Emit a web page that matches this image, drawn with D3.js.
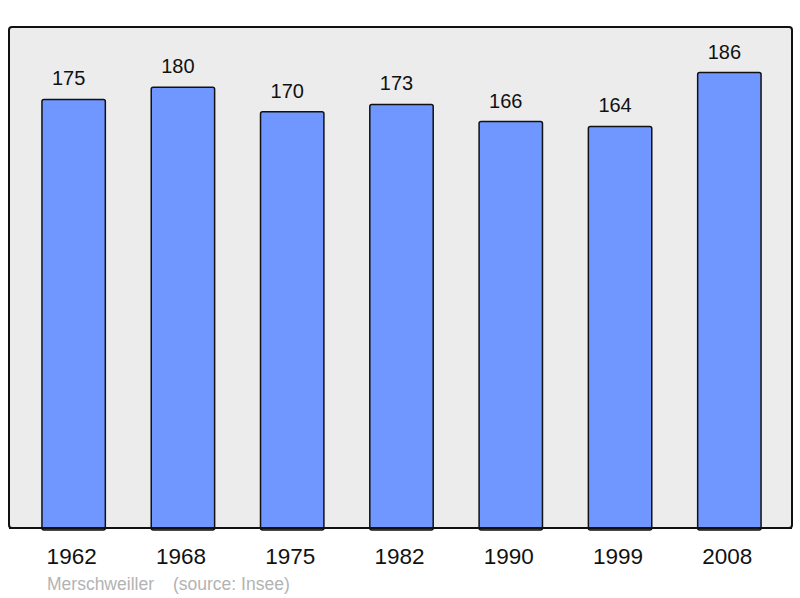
<!DOCTYPE html>
<html lang="fr">
<head>
<meta charset="utf-8">
<title>Merschweiller population</title>
<script src="https://cdn.jsdelivr.net/npm/d3@7"></script>
<style>
  body { margin: 0; background: #fff; }
  svg text { font-family: "Liberation Sans", Arial, sans-serif; }
</style>
</head>
<body>
<script>
// data
var years = ["1962", "1968", "1975", "1982", "1990", "1999", "2008"];
var population = [175, 180, 170, 173, 166, 164, 186];
var townName = "Merschweiller";
var sourceText = "(source: Insee)";

var w = 800, h = 598;
var frame = {left: 9, top: 27, right: 792, bottom: 528};

var svg = d3.select("body").append("svg")
    .attr("width", w)
    .attr("height", h);

// background frame
svg.append("rect")
    .attr("x", frame.left)
    .attr("y", frame.top)
    .attr("width", frame.right - frame.left)
    .attr("height", frame.bottom - frame.top)
    .attr("rx", 3)
    .attr("fill", "#ececec")
    .attr("stroke", "#111")
    .attr("stroke-width", 2);

var xScale = d3.scaleBand()
    .domain(years)
    .range([19, 784])
    .paddingInner(0.42)
    .paddingOuter(0.21);

var yScale = d3.scaleLinear()
    .domain([0, d3.max(population) * 1.1])
    .range([frame.bottom, frame.top]);

var rows = years.map(function(y, i) { return {year: y, value: population[i]}; });

svg.selectAll("rect.bar")
    .data(rows)
    .enter()
    .append("rect")
    .attr("class", "bar")
    .attr("x", d => xScale(d.year))
    .attr("y", d => yScale(d.value))
    .attr("width", xScale.bandwidth())
    .attr("height", d => frame.bottom - yScale(d.value) + 2)
    .attr("rx", 2)
    .attr("fill", "#7097ff")
    .attr("stroke", "#111")
    .attr("stroke-width", 1.5);

// redraw bottom line over the bars
svg.append("line")
    .attr("x1", frame.left)
    .attr("x2", frame.right)
    .attr("y1", frame.bottom)
    .attr("y2", frame.bottom)
    .attr("stroke", "#111")
    .attr("stroke-width", 2);

// value labels (sit a bit left of bar centre in the original)
svg.selectAll("text.val")
    .data(rows)
    .enter()
    .append("text")
    .attr("class", "val")
    .attr("x", d => xScale(d.year) + xScale.bandwidth() / 2 - 5)
    .attr("y", d => yScale(d.value) - 14)
    .attr("text-anchor", "middle")
    .attr("font-size", "20px")
    .attr("fill", "#111")
    .text(d => d.value);

// x axis labels
var xAxis = d3.axisBottom(xScale).tickSize(0).tickPadding(0);
var gx = svg.append("g")
    .attr("transform", "translate(-2," + frame.bottom + ")")
    .call(xAxis);
gx.select(".domain").remove();
gx.selectAll("text")
    .attr("dy", null)
    .attr("y", 36)
    .attr("font-size", "22.5px")
    .attr("font-family", "Liberation Sans, Arial, sans-serif")
    .attr("fill", "#111");

// footer
svg.append("text")
    .attr("x", 47)
    .attr("y", 590)
    .attr("font-size", "17.5px")
    .attr("fill", "#b3b3b3")
    .text(townName);
svg.append("text")
    .attr("x", 173)
    .attr("y", 590)
    .attr("font-size", "17.5px")
    .attr("fill", "#b3b3b3")
    .text(sourceText);
</script>
</body>
</html>
